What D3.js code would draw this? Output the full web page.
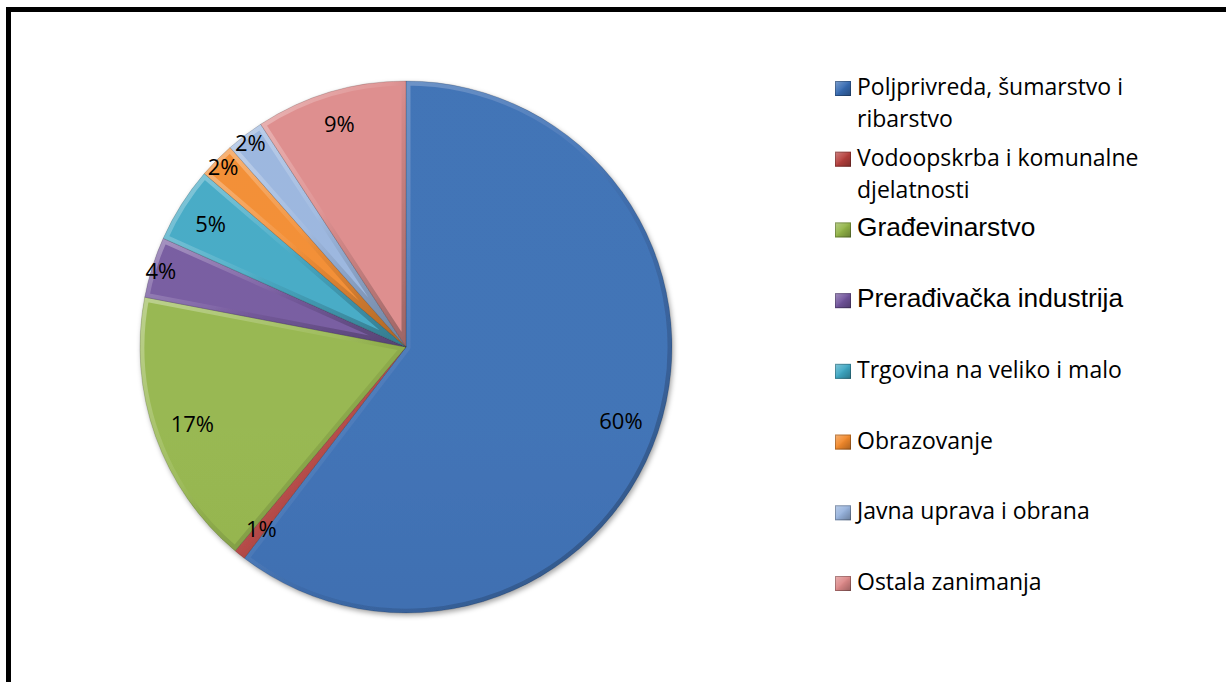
<!DOCTYPE html>
<html><head><meta charset="utf-8">
<script src="https://cdn.jsdelivr.net/npm/d3@7"></script>
<style>
html,body{margin:0;padding:0;background:#fff;}
svg{display:block;}
</style></head>
<body>
<svg id="chart" width="1226" height="682"></svg>
<script>
const categories = [
  "Poljprivreda, šumarstvo i ribarstvo",
  "Vodoopskrba i komunalne djelatnosti",
  "Građevinarstvo",
  "Prerađivačka industrija",
  "Trgovina na veliko i malo",
  "Obrazovanje",
  "Javna uprava i obrana",
  "Ostala zanimanja"
];
const values = [60.4, 0.7, 16.9, 3.7, 4.6, 2.2, 2.3, 9.2];
const colors = ["#376bb2", "#b53f3c", "#92b447", "#71549c", "#3ea7c3", "#f2892b", "#97b3dd", "#dc8888"];
const arialLegend = new Set(["Građevinarstvo", "Prerađivačka industrija"]);

const W = 1226, H = 682;
const cx = 406, cy = 347, R = 266;
const svg = d3.select("#chart");
const defs = svg.append("defs");

// drop shadow
const f = defs.append("filter").attr("id", "shadow").attr("x", "-10%").attr("y", "-10%").attr("width", "120%").attr("height", "120%");
f.append("feDropShadow").attr("dx", 1.5).attr("dy", 2.5).attr("stdDeviation", 2.5).attr("flood-color", "#000").attr("flood-opacity", 0.35);

// bevel gradient (light top-left, dark bottom-right)
const bev = defs.append("linearGradient").attr("id", "bevel").attr("x1", 0).attr("y1", 0).attr("x2", 1).attr("y2", 1);
bev.append("stop").attr("offset", "0%").attr("stop-color", "#fff").attr("stop-opacity", 0.35);
bev.append("stop").attr("offset", "45%").attr("stop-color", "#fff").attr("stop-opacity", 0.06);
bev.append("stop").attr("offset", "55%").attr("stop-color", "#000").attr("stop-opacity", 0.05);
bev.append("stop").attr("offset", "100%").attr("stop-color", "#000").attr("stop-opacity", 0.3);

// global vertical shade
const shade = defs.append("linearGradient").attr("id", "shade").attr("gradientUnits", "userSpaceOnUse")
  .attr("x1", cx).attr("y1", cy - R).attr("x2", cx).attr("y2", cy + R);
shade.append("stop").attr("offset", "0%").attr("stop-color", "#fff").attr("stop-opacity", 0.06);
shade.append("stop").attr("offset", "100%").attr("stop-color", "#000").attr("stop-opacity", 0.1);

// frame (only top & left visible)
svg.append("rect").attr("x", 8.5).attr("y", 9.5).attr("width", 1400).attr("height", 900)
  .attr("fill", "none").attr("stroke", "#000").attr("stroke-width", 5);

const data = categories.map((c, i) => ({ name: c, value: values[i], color: colors[i] }));
const pie = d3.pie().value(d => d.value).sort(null).startAngle(0).endAngle(2 * Math.PI);
const arcs = pie(data);
const arc = d3.arc().innerRadius(0).outerRadius(R);

const g = svg.append("g").attr("transform", `translate(${cx},${cy})`);
const pieG = g.append("g").attr("filter", "url(#shadow)");

arcs.forEach((a, i) => {
  const p = arc(a);
  defs.append("clipPath").attr("id", "clip" + i).append("path").attr("d", p);
  const sg = pieG.append("g");
  sg.append("path").attr("d", p).attr("fill", a.data.color);
  sg.append("path").attr("d", p).attr("fill", "url(#shade)");
  sg.append("path").attr("d", p).attr("fill", "none")
    .attr("stroke", "url(#bevel)").attr("stroke-width", 9)
    .attr("stroke-linejoin", "round")
    .attr("clip-path", `url(#clip${i})`);
  sg.append("path").attr("d", p).attr("fill", "none")
    .attr("stroke", "#000").attr("stroke-opacity", 0.2).attr("stroke-width", 0.8);
});

// labels
const labelFont = 22;
const lbl = g.append("g").attr("font-family", "'Open Sans', sans-serif").attr("font-size", labelFont).attr("fill", "#000");
arcs.forEach(a => {
  const mid = (a.startAngle + a.endAngle) / 2;
  const txt = Math.round(a.data.value) + "%";
  const t = lbl.append("text").text(txt).attr("text-anchor", "middle").attr("dominant-baseline", "central");
  const w = t.node().getComputedTextLength();
  const h = 28;
  const s = Math.sin(mid), c = -Math.cos(mid);
  const ext = Math.abs(s) * w / 2 + Math.abs(c) * h / 2;
  let r;
  if (a.data.value <= 4 && a.data.value >= 1.5) r = R - 9;
  else r = R - 14 - ext;
  t.attr("x", s * r).attr("y", c * r);
});

// legend
const ly = d3.scalePoint().domain(categories).range([95, 590]);
const legend = svg.append("g");
const maxW = 295;
categories.forEach((name, i) => {
  const y = ly(name);
  const isArial = arialLegend.has(name);
  const gi = legend.append("g");
  gi.append("rect").attr("x", 835).attr("y", y - 14).attr("width", 16).attr("height", 15).attr("fill", colors[i]);
  gi.append("rect").attr("x", 835).attr("y", y - 14).attr("width", 16).attr("height", 15)
    .attr("fill", "url(#bevel)");
  gi.append("rect").attr("x", 835.5).attr("y", y - 13.5).attr("width", 15).attr("height", 14)
    .attr("fill", "none").attr("stroke", "#000").attr("stroke-opacity", 0.25);
  const t = gi.append("text").attr("x", 857).attr("y", y)
    .attr("font-family", isArial ? "'Liberation Sans', Arial, sans-serif" : "'Open Sans', sans-serif")
    .attr("font-size", isArial ? 26.3 : 23).attr("fill", "#000");
  const words = name.split(" ");
  let line = [];
  let ts = t.append("tspan").attr("x", 857).attr("dy", 0);
  words.forEach(wd => {
    line.push(wd);
    ts.text(line.join(" "));
    if (ts.node().getComputedTextLength() > maxW && line.length > 1) {
      line.pop();
      ts.text(line.join(" "));
      line = [wd];
      ts = t.append("tspan").attr("x", 857).attr("dy", 32).text(wd);
    }
  });
});
</script>
</body></html>
